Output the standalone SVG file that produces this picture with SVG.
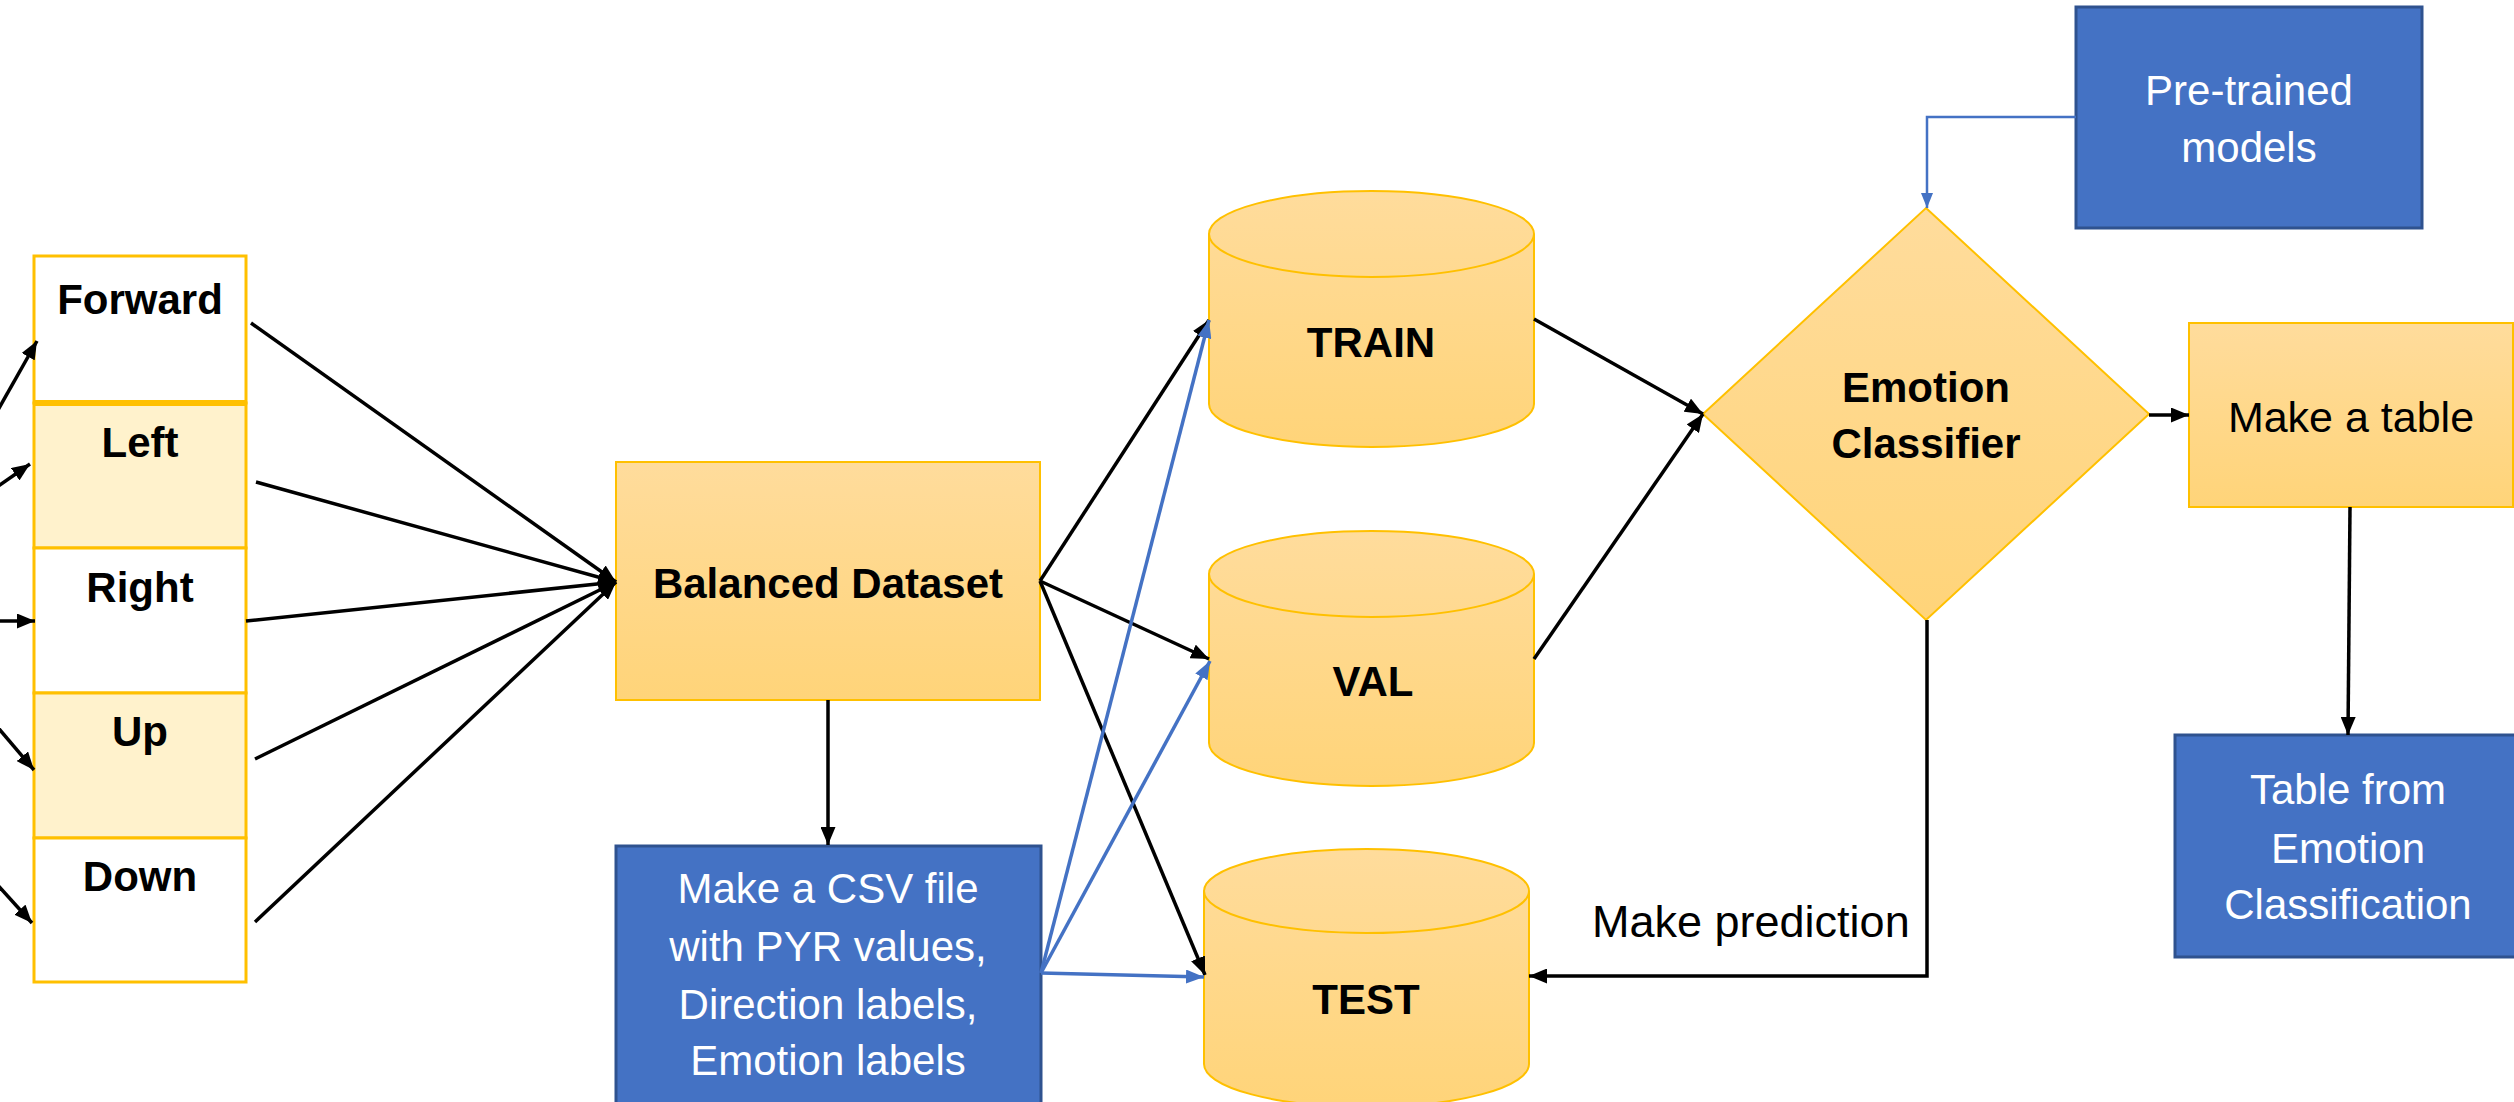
<svg xmlns="http://www.w3.org/2000/svg" width="2514" height="1102" viewBox="0 0 2514 1102">
  <defs>
    <linearGradient id="gold" x1="0" y1="0" x2="0" y2="1">
      <stop offset="0" stop-color="#FFDC9C"/>
      <stop offset="1" stop-color="#FFD479"/>
    </linearGradient>
    <marker id="arrowBlack" markerUnits="userSpaceOnUse" markerWidth="18" markerHeight="15" refX="18" refY="7.5" orient="auto">
      <path d="M0,0 L18,7.5 L0,15 Z" fill="#000"/>
    </marker>
    <marker id="arrowBlue" markerUnits="userSpaceOnUse" markerWidth="18" markerHeight="14" refX="18" refY="7" orient="auto">
      <path d="M0,0 L18,7 L0,14 Z" fill="#4472C4"/>
    </marker>
    <marker id="arrowBlueSmall" markerUnits="userSpaceOnUse" markerWidth="15" markerHeight="12" refX="15" refY="6" orient="auto">
      <path d="M0,0 L15,6 L0,12 Z" fill="#4472C4"/>
    </marker>
  </defs>
  <style>
    .gold { fill: url(#gold); stroke: #FFC000; stroke-width: 2; }
    .cell { stroke: #FFC000; stroke-width: 3; }
    .white { fill: #FFFFFF; }
    .pale { fill: #FFF2CC; }
    .blue { fill: #4472C4; stroke: #2F528F; stroke-width: 3; }
    .rim { fill: none; stroke: #FFC000; stroke-width: 2; }
    text { font-family: "Liberation Sans", Arial, sans-serif; text-anchor: middle; }
    .bold { font-weight: bold; font-size: 42px; fill: #000; }
    .dark { font-size: 43px; fill: #000; }
    .light { font-size: 42px; fill: #FFFFFF; }
    .label { font-size: 45px; fill: #000; text-anchor: start; }
    .conn { fill: none; stroke: #000; stroke-width: 3.5; }
    .connBlue { fill: none; stroke: #4472C4; stroke-width: 3.5; }
    .connBlueThin { fill: none; stroke: #4472C4; stroke-width: 2.5; }
  </style>

  <rect x="0" y="0" width="2514" height="1102" fill="#FFFFFF"/>

  <!-- direction column -->
  <g id="node-forward">
    <rect class="cell white" x="34" y="256" width="212" height="147"/>
    <text class="bold" x="140" y="314">Forward</text>
  </g>
  <g id="node-left">
    <rect class="cell pale" x="34" y="403" width="212" height="145"/>
    <text class="bold" x="140" y="457">Left</text>
  </g>
  <g id="node-right">
    <rect class="cell white" x="34" y="548" width="212" height="145"/>
    <text class="bold" x="140" y="602">Right</text>
  </g>
  <g id="node-up">
    <rect class="cell pale" x="34" y="693" width="212" height="145"/>
    <text class="bold" x="140" y="746">Up</text>
  </g>
  <g id="node-down">
    <rect class="cell white" x="34" y="838" width="212" height="144"/>
    <text class="bold" x="140" y="891">Down</text>
  </g>
  <line x1="34" y1="403" x2="246" y2="403" stroke="#FFC000" stroke-width="6"/>

  <!-- dataset -->
  <g id="node-balanced">
    <rect class="gold" x="616" y="462" width="424" height="238"/>
    <text class="bold" x="828" y="598">Balanced Dataset</text>
  </g>
  <g id="node-csv">
    <rect class="blue" x="616" y="846" width="425" height="270"/>
    <text class="light" x="828" y="903">Make a CSV file</text>
    <text class="light" x="828" y="961">with PYR values,</text>
    <text class="light" x="828" y="1019">Direction labels,</text>
    <text class="light" x="828" y="1075">Emotion labels</text>
  </g>

  <!-- splits -->
  <g id="node-train">
    <path class="gold" d="M1209,234 A162.5,43 0 0 1 1534,234 V404 A162.5,43 0 0 1 1209,404 Z"/>
    <path class="rim" d="M1209,234 A162.5,43 0 0 0 1534,234"/>
    <text class="bold" x="1371" y="357">TRAIN</text>
  </g>
  <g id="node-val">
    <path class="gold" d="M1209,574 A162.5,43 0 0 1 1534,574 V743 A162.5,43 0 0 1 1209,743 Z"/>
    <path class="rim" d="M1209,574 A162.5,43 0 0 0 1534,574"/>
    <text class="bold" x="1373" y="696">VAL</text>
  </g>
  <g id="node-test">
    <path class="gold" d="M1204,891 A162.5,42 0 0 1 1529,891 V1064 A162.5,43 0 0 1 1204,1064 Z"/>
    <path class="rim" d="M1204,891 A162.5,42 0 0 0 1529,891"/>
    <text class="bold" x="1366" y="1014">TEST</text>
  </g>

  <!-- classifier -->
  <g id="node-classifier">
    <polygon class="gold" points="1926,208 2149,414 1926,620 1703,414"/>
    <text class="bold" x="1926" y="402">Emotion</text>
    <text class="bold" x="1926" y="458">Classifier</text>
  </g>
  <g id="node-pretrained">
    <rect class="blue" x="2076" y="7" width="346" height="221"/>
    <text class="light" x="2249" y="105">Pre-trained</text>
    <text class="light" x="2249" y="162">models</text>
  </g>
  <g id="node-make-table">
    <rect class="gold" x="2189" y="323" width="324" height="184"/>
    <text class="dark" x="2351" y="432">Make a table</text>
  </g>
  <g id="node-table">
    <rect class="blue" x="2175" y="735" width="360" height="222"/>
    <text class="light" x="2348" y="804">Table from</text>
    <text class="light" x="2348" y="863">Emotion</text>
    <text class="light" x="2348" y="919">Classification</text>
  </g>

  <!-- connectors -->
  <g id="connectors">
    <!-- inputs entering the direction column -->
    <line class="conn" x1="-6" y1="417" x2="37" y2="341" marker-end="url(#arrowBlack)"/>
    <line class="conn" x1="-6" y1="489" x2="30" y2="464" marker-end="url(#arrowBlack)"/>
    <line class="conn" x1="-6" y1="621" x2="35" y2="621" marker-end="url(#arrowBlack)"/>
    <line class="conn" x1="-6" y1="723" x2="34" y2="770" marker-end="url(#arrowBlack)"/>
    <line class="conn" x1="-6" y1="881" x2="32" y2="923" marker-end="url(#arrowBlack)"/>

    <!-- directions into the balanced dataset -->
    <line class="conn" x1="251" y1="323" x2="616" y2="582" marker-end="url(#arrowBlack)"/>
    <line class="conn" x1="256" y1="482" x2="616" y2="582" marker-end="url(#arrowBlack)"/>
    <line class="conn" x1="246" y1="621" x2="616" y2="582" marker-end="url(#arrowBlack)"/>
    <line class="conn" x1="255" y1="759" x2="616" y2="582" marker-end="url(#arrowBlack)"/>
    <line class="conn" x1="255" y1="922" x2="616" y2="582" marker-end="url(#arrowBlack)"/>

    <!-- balanced dataset to CSV and splits -->
    <line class="conn" x1="828" y1="700" x2="828" y2="845" marker-end="url(#arrowBlack)"/>
    <line class="conn" x1="1040" y1="581" x2="1209" y2="320" marker-end="url(#arrowBlack)"/>
    <line class="conn" x1="1040" y1="581" x2="1209" y2="659" marker-end="url(#arrowBlack)"/>
    <line class="conn" x1="1040" y1="581" x2="1205" y2="975" marker-end="url(#arrowBlack)"/>

    <!-- CSV file to splits -->
    <line class="connBlue" x1="1041" y1="973" x2="1209" y2="320" marker-end="url(#arrowBlue)"/>
    <line class="connBlue" x1="1041" y1="973" x2="1210" y2="661" marker-end="url(#arrowBlue)"/>
    <line class="connBlue" x1="1041" y1="973" x2="1204" y2="977" marker-end="url(#arrowBlue)"/>

    <!-- splits to classifier -->
    <line class="conn" x1="1534" y1="319" x2="1703" y2="414" marker-end="url(#arrowBlack)"/>
    <line class="conn" x1="1534" y1="659" x2="1703" y2="414" marker-end="url(#arrowBlack)"/>

    <!-- pre-trained models to classifier -->
    <polyline class="connBlueThin" points="2076,117 1927,117 1927,208" marker-end="url(#arrowBlueSmall)"/>

    <!-- classifier outputs -->
    <line class="conn" x1="2149" y1="415" x2="2189" y2="415" marker-end="url(#arrowBlack)"/>
    <line class="conn" x1="2350" y1="507" x2="2348" y2="735" marker-end="url(#arrowBlack)"/>
    <polyline class="conn" points="1927,620 1927,976 1529,976" marker-end="url(#arrowBlack)"/>
    <text class="label" x="1592" y="937">Make prediction</text>
  </g>
</svg>
